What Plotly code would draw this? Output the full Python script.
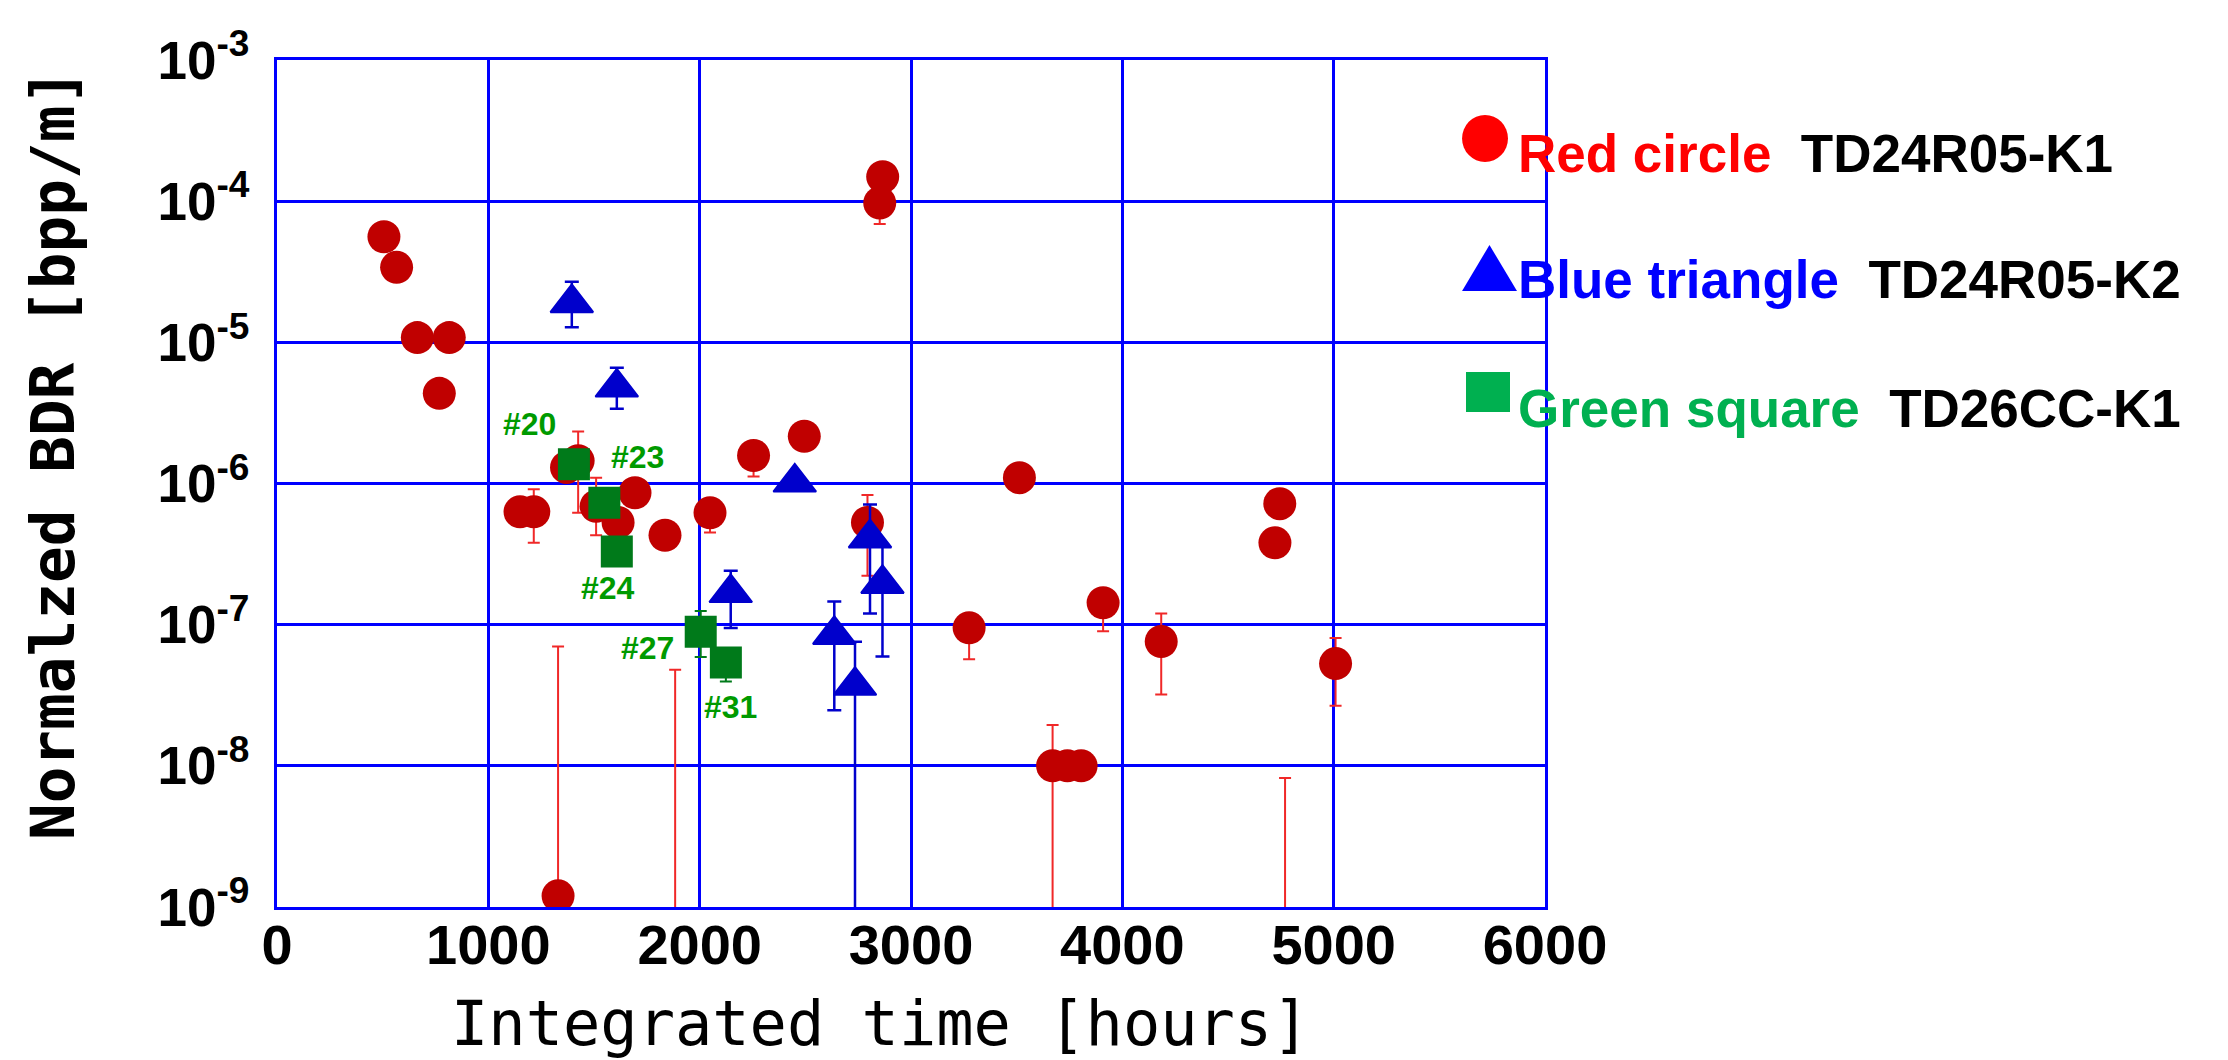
import math
import plotly.graph_objects as go

# ---- TD24R05-K1 (red circles) ----
red_hours = [506, 566, 664, 815, 768, 1150, 1215, 1330, 1370, 1425, 1510, 1614,
             1694, 1836, 1884, 2049, 2255, 2495, 2794, 2852, 2866, 3275, 3513,
             3670, 3740, 3805, 3909, 4184, 4722, 4745, 4770, 5009]
red_bdr = [5.6e-5, 3.4e-5, 1.08e-5, 1.08e-5, 4.35e-6, 6.3e-7, 6.3e-7, 1.2e-9,
           1.3e-6, 1.45e-6, 6.9e-7, 5.3e-7, 8.6e-7, 4.3e-7, 5e-10, 6.2e-7,
           1.58e-6, 2.16e-6, 5.3e-7, 9.7e-5, 1.49e-4, 9.5e-8, 1.1e-6,
           1.0e-8, 1.0e-8, 1.0e-8, 1.43e-7, 7.6e-8, 3.8e-7, 7.2e-7, 5e-10, 5.3e-8]
red_upper = [None, None, None, None, None, None, 9.1e-7, 7.0e-8,
             None, 2.34e-6, 1.1e-6, None, None, None, 4.8e-8, None,
             None, None, 8.3e-7, None, None, None, None,
             1.95e-8, None, None, None, 1.2e-7, None, None, 8.2e-9, 8.05e-8]
red_lower = [None, None, None, None, None, None, 3.8e-7, None,
             None, 6.2e-7, 4.3e-7, None, None, None, None, 4.5e-7,
             1.12e-6, None, 2.22e-7, 6.9e-5, None, 5.7e-8, None,
             1e-10, None, None, 9.0e-8, 3.2e-8, None, None, None, 2.66e-8]

# ---- TD24R05-K2 (blue triangles) ----
blue_hours = [1395, 1608, 2147, 2450, 2637, 2735, 2806, 2865]
blue_bdr = [1.9e-5, 4.8e-6, 1.68e-7, 1.02e-6, 8.5e-8, 3.7e-8, 4.1e-7, 1.95e-7]
blue_upper = [2.69e-5, 6.6e-6, 2.41e-7, None, 1.46e-7, 7.57e-8, 7.1e-7, 3.6e-7]
blue_lower = [1.28e-5, 3.39e-6, 9.46e-8, None, 2.48e-8, 1e-10, 1.2e-7, 5.96e-8]

# ---- TD26CC-K1 (green squares) ----
green_labels = ["#20", "#23", "#24", "#27", "#31"]
green_hours = [1405, 1549, 1608, 2005, 2124]
green_bdr = [1.37e-6, 7.3e-7, 3.3e-7, 8.9e-8, 5.4e-8]
green_upper = [None, None, None, 1.25e-7, None]
green_lower = [None, None, None, 5.9e-8, 3.95e-8]

x_ticks = [0, 1000, 2000, 3000, 4000, 5000, 6000]
y_exponents = [-9, -8, -7, -6, -5, -4, -3]


def err_plus(vals, upper):
    return [(u - v) if u is not None else 0 for v, u in zip(vals, upper)]


def err_minus(vals, lower):
    return [(v - l) if l is not None else 0 for v, l in zip(vals, lower)]


fig = go.Figure()

fig.add_trace(go.Scatter(
    x=red_hours, y=red_bdr, mode="markers",
    marker=dict(symbol="circle", size=33, color="#C00000", line=dict(width=0)),
    error_y=dict(type="data", symmetric=False,
                 array=err_plus(red_bdr, red_upper),
                 arrayminus=err_minus(red_bdr, red_lower),
                 color="#F02828", thickness=2, width=6),
))

fig.add_trace(go.Scatter(
    x=blue_hours, y=blue_bdr, mode="markers",
    marker=dict(symbol="triangle-up", size=37, color="#0000CC",
                line=dict(width=2, color="#0000CC")),
    error_y=dict(type="data", symmetric=False,
                 array=err_plus(blue_bdr, blue_upper),
                 arrayminus=err_minus(blue_bdr, blue_lower),
                 color="#0000CC", thickness=2.5, width=7),
))

fig.add_trace(go.Scatter(
    x=green_hours, y=green_bdr, mode="markers",
    marker=dict(symbol="square", size=32, color="#007A1A", line=dict(width=0)),
    error_y=dict(type="data", symmetric=False,
                 array=err_plus(green_bdr, green_upper),
                 arrayminus=err_minus(green_bdr, green_lower),
                 color="#007A1A", thickness=2, width=6),
))

# sample-number tags next to the green squares (pixel offsets)
tag_offsets = {"#20": (-44, 40), "#23": (33, 46), "#24": (-9, -37),
               "#27": (-53, -16), "#31": (5, -45)}
annotations = []
for name, hx, val in zip(green_labels, green_hours, green_bdr):
    dx, dy = tag_offsets[name]
    annotations.append(dict(
        x=hx, y=math.log10(val), xref="x", yref="y", text=name,
        showarrow=False, xshift=dx, yshift=dy,
        font=dict(family="Liberation Sans", size=32, color="#009A00", weight="bold"),
    ))

# axis titles
annotations.append(dict(
    x=-0.1774, y=0.5336, xref="paper", yref="paper",
    text="Normalzed BDR [bpp/m]", textangle=-90, showarrow=False,
    xanchor="center", yanchor="middle",
    font=dict(family="DejaVu Sans Mono", size=61, color="black", weight="bold"),
))
annotations.append(dict(
    x=0.4756, y=-0.138, xref="paper", yref="paper",
    text="Integrated time [hours]", showarrow=False,
    xanchor="center", yanchor="middle",
    font=dict(family="DejaVu Sans Mono", size=62, color="black"),
))

# key on the right
key_font = dict(family="Liberation Sans", size=53, color="black", weight="bold")
key_rows = [
    ("Red circle", "#FF0000", "TD24R05-K1", 0.8895),
    ("Blue triangle", "#0000FF", "TD24R05-K2", 0.7407),
    ("Green square", "#00B050", "TD26CC-K1", 0.5888),
]
for label, colour, sample, ypos in key_rows:
    annotations.append(dict(
        x=0.9771, y=ypos, xref="paper", yref="paper", showarrow=False,
        xanchor="left", yanchor="middle",
        text=f"<span style='color:{colour}'>{label}</span>&nbsp;&nbsp;{sample}",
        font=key_font,
    ))

shapes = [
    dict(type="circle", xref="paper", yref="paper",
         x0=0.9346, x1=0.9708, y0=0.8796, y1=0.9351,
         fillcolor="#FF0000", line=dict(width=0)),
    dict(type="path", xref="paper", yref="paper",
         path="M 0.9346,0.7273 L 0.9779,0.7273 L 0.9562,0.7816 Z",
         fillcolor="#0000FF", line=dict(width=0)),
    dict(type="rect", xref="paper", yref="paper",
         x0=0.9377, x1=0.9724, y0=0.5844, y1=0.6316,
         fillcolor="#00B050", line=dict(width=0)),
]

tick_font_x = dict(family="Liberation Sans", size=56, color="black", weight="bold")
tick_font_y = dict(family="Liberation Sans", size=53, color="black", weight="bold")

fig.update_layout(
    width=2228, height=1060,
    margin=dict(l=277, r=683, t=60, b=153),
    paper_bgcolor="white", plot_bgcolor="white",
    showlegend=False,
    annotations=annotations,
    shapes=shapes,
    xaxis=dict(
        range=[0, 6000], tickvals=x_ticks, ticktext=[str(t) for t in x_ticks],
        showgrid=True, gridcolor="#0000FF", gridwidth=2.5,
        showline=True, linecolor="#0000FF", linewidth=3, mirror=True,
        zeroline=False, ticks="", tickfont=tick_font_x, ticklabelstandoff=-13,
    ),
    yaxis=dict(
        type="log", range=[-9, -3],
        tickvals=[10.0 ** e for e in y_exponents],
        ticktext=[f"10<sup>{e}</sup>" for e in y_exponents],
        showgrid=True, gridcolor="#0000FF", gridwidth=2.5,
        showline=True, linecolor="#0000FF", linewidth=3, mirror=True,
        zeroline=False, ticks="", tickfont=tick_font_y, ticklabelstandoff=14,
    ),
)

fig.write_html("out.html")
